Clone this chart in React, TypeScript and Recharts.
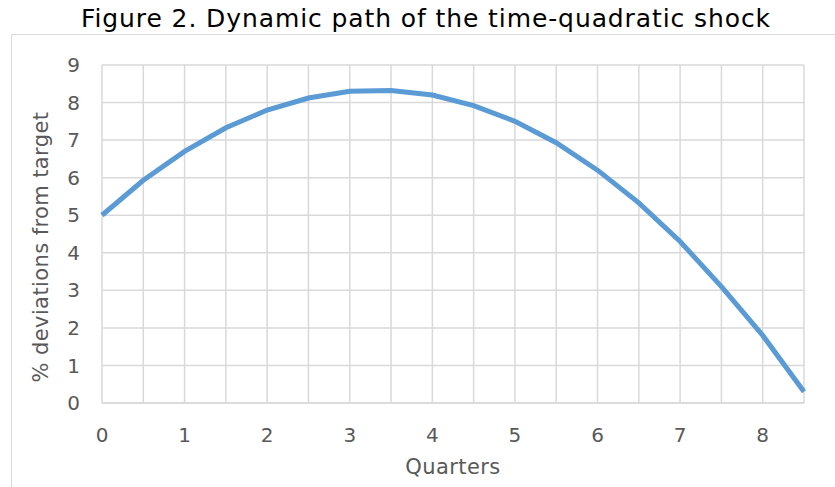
import { LineChart, Line, XAxis, YAxis, CartesianGrid, Label } from "recharts"

const QUARTERS = [0, 0.5, 1, 1.5, 2, 2.5, 3, 3.5, 4, 4.5, 5, 5.5, 6, 6.5, 7, 7.5, 8, 8.5]
const DEVIATION = [5.0, 5.93, 6.7, 7.33, 7.8, 8.12, 8.3, 8.32, 8.2, 7.92, 7.5, 6.93, 6.2, 5.33, 4.3, 3.1, 1.8, 0.3]
const X_TICKS = [0, 0.5, 1, 1.5, 2, 2.5, 3, 3.5, 4, 4.5, 5, 5.5, 6, 6.5, 7, 7.5, 8, 8.5]
const Y_TICKS = [0, 1, 2, 3, 4, 5, 6, 7, 8, 9]

const TITLE = "Figure 2. Dynamic path of the time-quadratic shock"
const FONT = "'DejaVu Sans', Verdana, sans-serif"
const GRID = "#d9d9d9"
const TEXT = "#595959"

const data = QUARTERS.map((q, i) => ({ q, v: DEVIATION[i] }))

export default function App() {
  return (
    <div style={{ position: "absolute", left: 0, top: 0, width: 835, height: 487, overflow: "hidden", background: "#fff", fontFamily: FONT }}>
      <div
        style={{
          position: "absolute",
          left: 11,
          top: 34,
          width: 840,
          height: 470,
          borderLeft: `1.5px solid ${GRID}`,
          borderTop: `1.5px solid ${GRID}`,
        }}
      />
      <div
        style={{
          position: "absolute",
          left: 0,
          top: 4,
          width: 852,
          textAlign: "center",
          fontSize: 25,
          letterSpacing: 0.9,
          lineHeight: "30px",
          color: "#000",
          whiteSpace: "nowrap",
        }}
      >
        {TITLE}
      </div>
      <div style={{ position: "absolute", left: 0, top: 0 }}>
        <LineChart width={835} height={487} data={data} margin={{ top: 65, right: 31, bottom: 0, left: 0 }}>
          <CartesianGrid stroke={GRID} strokeWidth={1.5} />
          <XAxis
            dataKey="q"
            type="number"
            domain={[0, 8.5]}
            ticks={X_TICKS}
            interval={0}
            tickFormatter={(v: number) => (Number.isInteger(v) ? String(v) : "")}
            height={84}
            tickSize={0}
            tickMargin={25}
            tickLine={false}
            axisLine={{ stroke: GRID, strokeWidth: 1.5 }}
            tick={{ fontSize: 20, fill: TEXT, fontFamily: FONT }}
          >
            <Label value="Quarters" position="center" dy={22} style={{ fontSize: 21, letterSpacing: 0.4, fill: TEXT, fontFamily: FONT }} />
          </XAxis>
          <YAxis
            type="number"
            domain={[0, 9]}
            ticks={Y_TICKS}
            interval={0}
            width={102}
            tickSize={0}
            tickMargin={22}
            tickLine={false}
            axisLine={false}
            tick={{ fontSize: 20, fill: TEXT, fontFamily: FONT }}
          >
            <Label
              value="% deviations from target"
              angle={-90}
              position="center"
              dx={-10}
              dy={13}
              style={{ fontSize: 21, letterSpacing: 0.4, fill: TEXT, fontFamily: FONT, textAnchor: "middle" }}
            />
          </YAxis>
          <Line
            dataKey="v"
            type="linear"
            stroke="#5b9bd5"
            strokeWidth={5}
            dot={false}
            activeDot={false}
            isAnimationActive={false}
          />
        </LineChart>
      </div>
    </div>
  )
}
